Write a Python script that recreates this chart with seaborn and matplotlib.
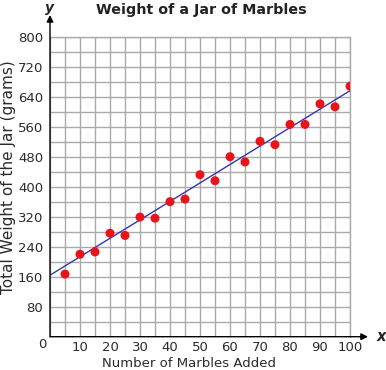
import matplotlib.pyplot as plt
import seaborn as sns
import numpy as np
import pandas as pd

# Data
marbles = [5, 10, 15, 20, 25, 30, 35, 40, 45, 50, 55, 60, 65, 70, 75, 80, 85, 90, 95, 100]
weights = [167, 220, 226, 276, 270, 319, 316, 360, 367, 432, 416, 480, 466, 521, 512, 566, 566, 621, 613, 668]
fit_x = [0, 100]
fit_intercept = 164
fit_slope = 4.92

x_ticks = [0, 10, 20, 30, 40, 50, 60, 70, 80, 90, 100]
y_ticks = [80, 160, 240, 320, 400, 480, 560, 640, 720, 800]

sns.set_theme(style="white")
plt.rcParams['font.family'] = ['DejaVu Sans']

df = pd.DataFrame({"marbles": marbles, "weight": weights})
fit_df = pd.DataFrame({"x": fit_x, "y": [fit_intercept + fit_slope * v for v in fit_x]})

fig = plt.figure(figsize=(3.86, 3.70), dpi=100)
ax = fig.add_axes([50 / 386, 1 - 336.7 / 370, 300 / 386, 300 / 370])

ax.set_xlim(0, 100)
ax.set_ylim(0, 800)
ax.set_xticks(x_ticks)
# origin "0" is drawn separately, shifted left of the axis like the reference
ax.set_xticklabels([""] + [str(t) for t in x_ticks[1:]])
ax.set_yticks(y_ticks)
ax.set_xticks(np.arange(5, 100, 10), minor=True)
ax.set_yticks(np.arange(40, 800, 80), minor=True)
ax.grid(True, which="both", color="#aaaaaa", linewidth=1.0)
ax.set_axisbelow(True)
for s in ax.spines.values():
    s.set_visible(False)
ax.tick_params(axis="both", which="both", length=0, labelsize=9.5, colors="#2a2a2a")
ax.tick_params(axis="x", pad=3)
ax.tick_params(axis="y", pad=5)
ax.text(-8 / 300, -8 / 300, "0", transform=ax.transAxes, fontsize=9.5,
        ha="center", va="center", color="#2a2a2a")

# Gray top/right border of the grid
ax.axhline(800, color="#aaaaaa", lw=1.0, clip_on=False)
ax.axvline(100, color="#aaaaaa", lw=1.0, clip_on=False)

sns.lineplot(data=fit_df, x="x", y="y", color="#3535b0", linewidth=1.0, ax=ax)
sns.scatterplot(data=df, x="marbles", y="weight", color="#e8141a", s=42,
                edgecolor="none", ax=ax, zorder=5)

# Axes with arrow heads
ax.annotate("", xy=(106, 0), xytext=(0, 0), xycoords="data",
            arrowprops=dict(arrowstyle="-|>", color="black", lw=1.0,
                            mutation_scale=10, shrinkA=0, shrinkB=0),
            annotation_clip=False)
ax.annotate("", xy=(0, 858), xytext=(0, 0), xycoords="data",
            arrowprops=dict(arrowstyle="-|>", color="black", lw=1.0,
                            mutation_scale=10, shrinkA=0, shrinkB=0),
            annotation_clip=False)
ax.text(109, 0, "x", fontsize=10.5, fontstyle="italic", fontweight="bold",
        ha="left", va="center", clip_on=False)
ax.text(0, 876, "y", fontsize=10, fontstyle="italic", fontweight="bold",
        ha="center", va="center", clip_on=False)

ax.set_xlabel("Number of Marbles Added", fontsize=9.5, color="#2a2a2a",
              va="center", ha="center")
ax.xaxis.set_label_coords(139 / 300, -26.5 / 300)
ax.set_ylabel("Total Weight of the Jar (grams)", fontsize=11, color="#2a2a2a",
              va="center", ha="center")
ax.yaxis.set_label_coords(-41 / 300, 159.7 / 300)
fig.text(201 / 386, 1 - 10 / 370, "Weight of a Jar of Marbles", fontsize=10.3,
         fontweight="bold", ha="center", va="center", color="#222222")

fig.savefig("out.png", dpi=100)
